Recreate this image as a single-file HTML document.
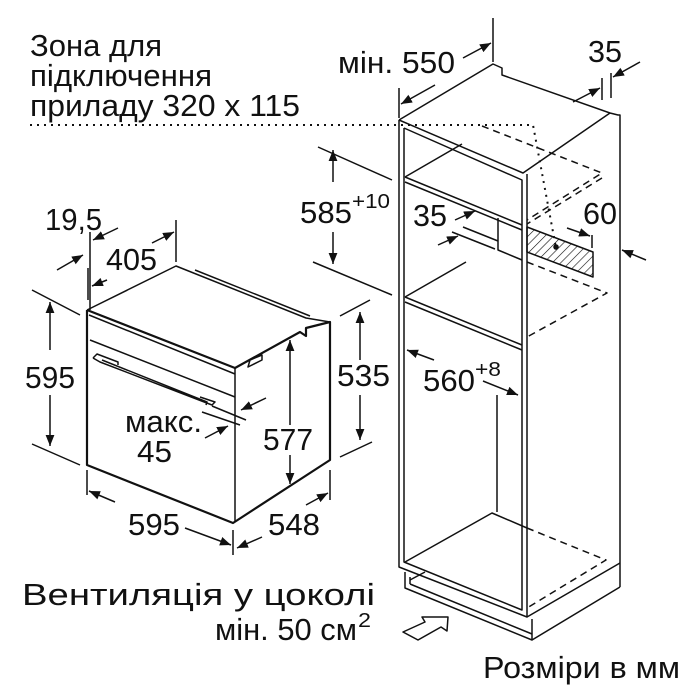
<!DOCTYPE html>
<html><head><meta charset="utf-8"><style>
html,body{margin:0;padding:0;background:#fff}
svg{display:block}
text{font-family:"Liberation Sans",Arial,sans-serif;fill:#111}
</style></head><body>
<svg width="700" height="700" viewBox="0 0 700 700" xmlns="http://www.w3.org/2000/svg">
<defs>
<marker id="a" viewBox="0 0 10 10" refX="10" refY="5" markerWidth="11" markerHeight="11" markerUnits="userSpaceOnUse" orient="auto"><path d="M0,1 L10,5 L0,9z" fill="#111"/></marker>
<pattern id="h" width="6" height="6" patternUnits="userSpaceOnUse" patternTransform="rotate(45)"><line x1="0" y1="0" x2="0" y2="6" stroke="#111" stroke-width="1.2"/></pattern>
</defs>
<g font-size="31">
<text x="30" y="56" textLength="132" lengthAdjust="spacingAndGlyphs">Зона для</text>
<text x="30" y="86" textLength="182" lengthAdjust="spacingAndGlyphs">підключення</text>
<text x="30" y="116" textLength="270" lengthAdjust="spacingAndGlyphs">приладу 320 x 115</text>
<text x="338" y="73" textLength="117" lengthAdjust="spacingAndGlyphs">мін. 550</text>
<text x="588" y="62" textLength="34" lengthAdjust="spacingAndGlyphs">35</text>
<text x="300" y="223" textLength="52" lengthAdjust="spacingAndGlyphs">585</text>
<text x="352" y="208" font-size="20" textLength="38" lengthAdjust="spacingAndGlyphs">+10</text>
<text x="413" y="226" textLength="34" lengthAdjust="spacingAndGlyphs">35</text>
<text x="583" y="224" textLength="34" lengthAdjust="spacingAndGlyphs">60</text>
<text x="45" y="230" textLength="57" lengthAdjust="spacingAndGlyphs">19,5</text>
<text x="106" y="270" textLength="51" lengthAdjust="spacingAndGlyphs">405</text>
<text x="25" y="388" textLength="50" lengthAdjust="spacingAndGlyphs">595</text>
<text x="337" y="386" textLength="53" lengthAdjust="spacingAndGlyphs">535</text>
<text x="263" y="450" textLength="50" lengthAdjust="spacingAndGlyphs">577</text>
<text x="125" y="432" textLength="77" lengthAdjust="spacingAndGlyphs">макс.</text>
<text x="137" y="462" textLength="35" lengthAdjust="spacingAndGlyphs">45</text>
<text x="423" y="391" textLength="52" lengthAdjust="spacingAndGlyphs">560</text>
<text x="475" y="376" font-size="20" textLength="26" lengthAdjust="spacingAndGlyphs">+8</text>
<text x="128" y="535" textLength="52" lengthAdjust="spacingAndGlyphs">595</text>
<text x="268" y="535" textLength="52" lengthAdjust="spacingAndGlyphs">548</text>
<text x="22" y="605" textLength="353" lengthAdjust="spacingAndGlyphs">Вентиляція у цоколі</text>
<text x="215" y="640" textLength="142" lengthAdjust="spacingAndGlyphs">мін. 50 см</text>
<text x="358" y="627" font-size="20" textLength="13" lengthAdjust="spacingAndGlyphs">2</text>
<text x="483" y="678" textLength="197" lengthAdjust="spacingAndGlyphs">Розміри в мм</text>
</g>

<g fill="none" stroke="#111" stroke-width="1.5" stroke-linejoin="round">
<path d="M30,125 H533 L556,248" stroke-dasharray="2,5" stroke-width="2"/>
<circle cx="556" cy="247" r="2" fill="#111"/>
<path d="M399,120 L493,64 L502,68 L502,75 L610,113 L618,115 L620,115 V587"/>
<path d="M399,120 L523,173 L610,113"/>
<path d="M399,120 V567 L527,617 V174"/>
<path d="M404,128 V562 L522,610 V180 L404,128"/>
<path d="M527,617 L620,563"/>
<path d="M405,572 V588 L532,640 V619"/>
<path d="M410,577 L410,584 M410,584 L532,634"/>
<path d="M532,640 L620,587"/>
<path d="M410,580 L425,572"/>
<path d="M405,177 L522,225 M405,182 L522,230"/>
<path d="M405,177 L462,144"/>
<path d="M405,297 L522,345 M405,302 L522,350"/>
<path d="M405,297 L466,262"/>
<path d="M405,562 L492,513 L527,528"/>
<path d="M497,395 V512"/>
<path d="M482,126 L602,173 L527,220 M602,178 L527,224" stroke-dasharray="7,5"/>
<path d="M527,262 L607,293 L527,337" stroke-dasharray="7,5"/>
<path d="M527,528 L606,560 L527,608" stroke-dasharray="7,5"/>
<path d="M527,227 L593,252 L593,277 L527,252z" fill="url(#h)"/>
<path d="M463,227 L498,241 M498,218 V250 L522,260 M452,232 L495,249"/>
<path d="M399,118 V88 M493,62 V18"/>
<path d="M435,85 L401,104" marker-end="url(#a)"/>
<path d="M463,58 L491,43" marker-end="url(#a)"/>
<path d="M602,100 V78 M611,98 V73"/>
<path d="M573,102 L600,88" marker-end="url(#a)"/>
<path d="M640,62 L613,77" marker-end="url(#a)"/>
<path d="M318,147 L392,180 M313,262 L392,295"/>
<path d="M333,182 V150" marker-end="url(#a)"/>
<path d="M333,232 V264" marker-end="url(#a)"/>
<path d="M455,220 L475,211" marker-end="url(#a)"/>
<path d="M438,245 L458,236" marker-end="url(#a)"/>
<path d="M592,235 V248"/>
<path d="M567,228 L590,236" marker-end="url(#a)"/>
<path d="M646,260 L622,250" marker-end="url(#a)"/>
<path d="M434,360 L407,350" marker-end="url(#a)"/>
<path d="M483,381 L518,395" marker-end="url(#a)"/>
<path d="M403,632 L425,622 L422,617 L448,617 L447,631 L441,627 L418,640z"/>

<path d="M87,310 V465 L233,523 L330,460 V322 L306,328 L306,336 L300,332 L235,368 L87,310" stroke-width="2.2"/>
<path d="M87,310 L176,266 L306,318 L330,322 M195,270 L310,316"/>
<path d="M90,340 L235,397 M235,368 V522 M89,315 L235,374"/>
<path d="M93,358 L97,354 L118,362 L118,365 M102,360 L207,402 L206,405 M200,397 L215,402 L212,405 L100,362 L93,358"/>
<path d="M248,367 L262,360 L262,355 L250,360z"/>
<path d="M88,300 V268 M176,262 V220"/>
<path d="M90,310 V232"/>
<path d="M57,270 L83,255" marker-end="url(#a)"/>
<path d="M118,228 L93,240" marker-end="url(#a)"/>
<path d="M107,280 L92,286" marker-end="url(#a)"/>
<path d="M152,243 L174,232" marker-end="url(#a)"/>
<path d="M32,290 L80,315 M32,444 L80,465"/>
<path d="M50,350 V302" marker-end="url(#a)"/>
<path d="M50,395 V446" marker-end="url(#a)"/>
<path d="M340,316 L370,300 M340,457 L372,442"/>
<path d="M360,360 V312" marker-end="url(#a)"/>
<path d="M360,395 V440" marker-end="url(#a)"/>
<path d="M290,425 V340" marker-end="url(#a)"/>
<path d="M290,455 V484" marker-end="url(#a)"/>
<path d="M212,406 L246,420 M202,412 L240,425"/>
<path d="M266,398 L241,410" marker-end="url(#a)"/>
<path d="M205,438 L228,426" marker-end="url(#a)"/>
<path d="M87,470 V495 M233,530 V555 M330,470 V500"/>
<path d="M115,502 L89,491" marker-end="url(#a)"/>
<path d="M185,528 L231,545" marker-end="url(#a)"/>
<path d="M262,537 L237,548" marker-end="url(#a)"/>
<path d="M306,505 L328,493" marker-end="url(#a)"/>
</g>
</svg>
</body></html>
